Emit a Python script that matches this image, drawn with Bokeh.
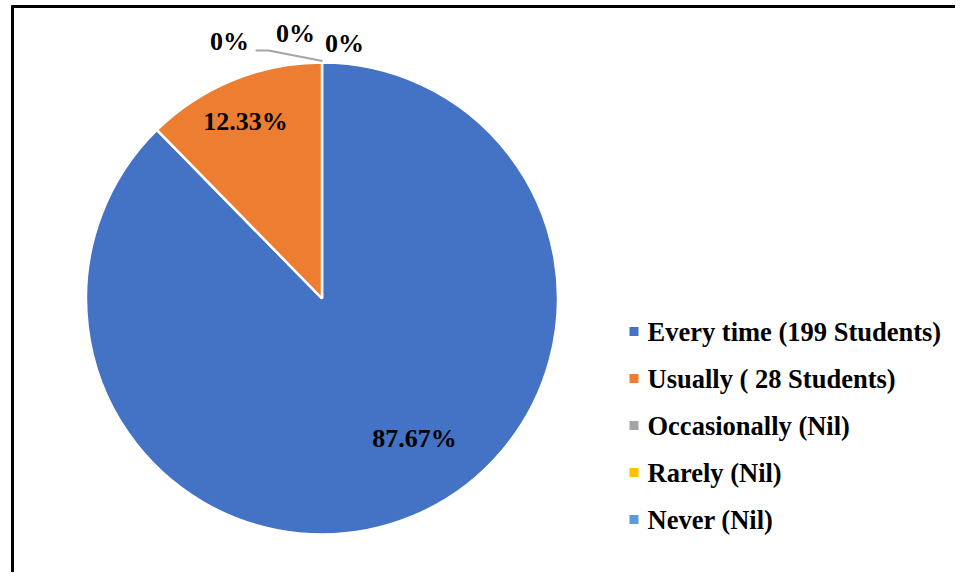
import math
from bokeh.plotting import figure
from bokeh.models import Range1d, ColumnDataSource
from bokeh.core.properties import value
from bokeh.embed import file_html
from bokeh.resources import INLINE

# ---- data ----
categories = ["Every time (199 Students)", "Usually ( 28 Students)",
              "Occasionally (Nil)", "Rarely (Nil)", "Never (Nil)"]
counts = [199, 28, 0, 0, 0]
pct_labels = ["87.67%", "12.33%", "0%", "0%", "0%"]
colors = ["#4472C4", "#ED7D31", "#A5A5A5", "#FFC000", "#5B9BD5"]

# ---- layout (picture pixel coordinates -> data) ----
W, H = 955, 572
def X(px):
    return px
def Y(py):
    return H - py

CX, CY, R = 321.5, 298, 236
FONT = value("Liberation Serif")

p = figure(width=W, height=H, output_backend="svg", toolbar_location=None,
           x_range=Range1d(0, W), y_range=Range1d(0, H),
           min_border=0, outline_line_color=None)
p.axis.visible = False
p.grid.visible = False
p.background_fill_color = "white"
p.border_fill_color = "white"

# frame lines (top and left)
p.line([X(11), X(963)], [Y(6), Y(6)], line_color="black", line_width=3)
p.line([X(12), X(12)], [Y(5), Y(580)], line_color="black", line_width=3)

# wedges (clockwise from 12 o'clock)
total = sum(counts)
starts, ends, cols = [], [], []
cum = 0
for c, col in zip(counts, colors):
    a0 = math.pi / 2 - 2 * math.pi * cum / total
    cum += c
    a1 = math.pi / 2 - 2 * math.pi * cum / total
    if c > 0:
        starts.append(a1)
        ends.append(a0)
        cols.append(col)
src = ColumnDataSource(dict(x=[X(CX)] * len(starts), y=[Y(CY)] * len(starts),
                            start=starts, end=ends, color=cols))
p.wedge(x="x", y="y", radius=R, start_angle="start", end_angle="end",
        direction="anticlock", fill_color="color", line_color="white",
        line_width=2.5, source=src)

# leader line for the middle zero label
p.line([X(255), X(268), X(322)], [Y(50), Y(50), Y(60.5)],
       line_color="#A5A5A5", line_width=2)

# data labels
label_pos = [(414, 438), (245, 121), (229, 41), (295, 33), (344, 43)]
p.text(x=[X(a) for a, b in label_pos], y=[Y(b) for a, b in label_pos],
       text=pct_labels, text_font=FONT, text_font_style="bold",
       text_font_size="26px", text_color="black",
       text_align="center", text_baseline="middle")

# legend
leg_y = [331 + 47 * i for i in range(len(categories))]
p.scatter(x=[X(633.5)] * len(categories), y=[Y(v) for v in leg_y],
          marker="square", size=9, fill_color=colors, line_color=None)
p.text(x=[X(647)] * len(categories), y=[Y(v) for v in leg_y],
       text=categories, text_font=FONT, text_font_style="bold",
       text_font_size="26.5px", text_color="black",
       text_align="left", text_baseline="middle")

open("out.html", "w").write(file_html(p, INLINE))
